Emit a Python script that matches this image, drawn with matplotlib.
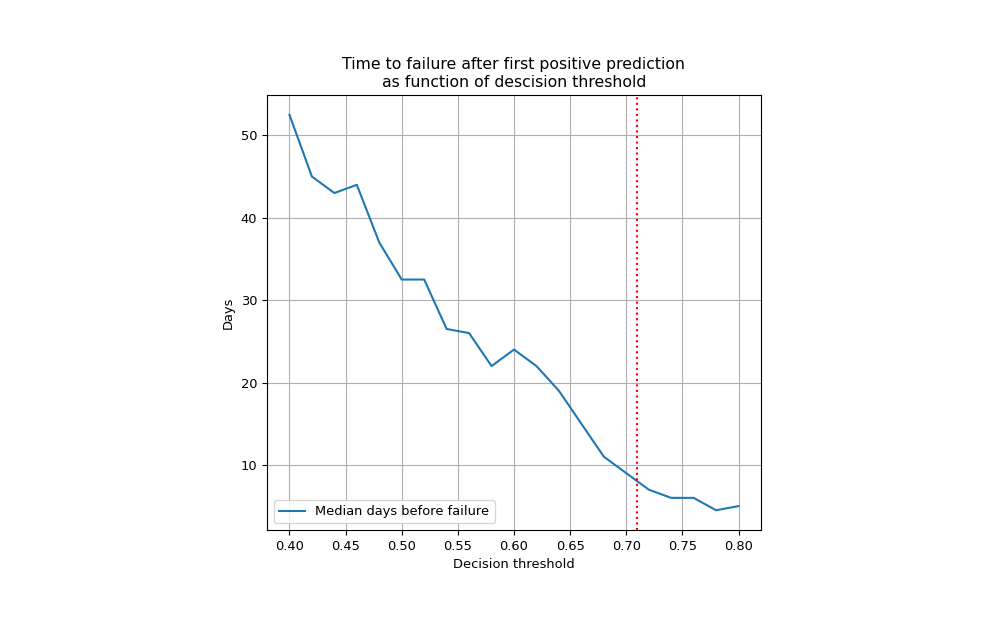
import numpy as np
import matplotlib
matplotlib.use('Agg')
import matplotlib.pyplot as plt

# thresholds e mediana de dias antes da falha
thresholds = [0.40, 0.42, 0.44, 0.46, 0.48, 0.50, 0.52, 0.54, 0.56, 0.58, 0.60,
              0.62, 0.64, 0.66, 0.68, 0.70, 0.72, 0.74, 0.76, 0.78, 0.80]
median_days = [52.5, 45, 43, 44, 37, 32.5, 32.5, 26.5, 26, 22, 24,
               22, 19, 15, 11, 9, 7, 6, 6, 4.5, 5]
chosen_threshold = 0.71

plt.rcParams['font.size'] = 9.4

fig = plt.figure(figsize=(10, 6.25), dpi=100)
ax = fig.add_axes([0.267, 0.152, 0.494, 0.696])

ax.plot(thresholds, median_days, label='Median days before failure')
ax.axvline(chosen_threshold, color='red', linestyle=':')
ax.grid(True)
ax.set_xticks(np.arange(0.40, 0.801, 0.05))
ax.set_xlabel('Decision threshold')
ax.set_ylabel('Days')
ax.set_title('Time to failure after first positive prediction\nas function of descision threshold',
             fontsize=11.3)
ax.legend(loc='lower left')

plt.savefig('out.png')
